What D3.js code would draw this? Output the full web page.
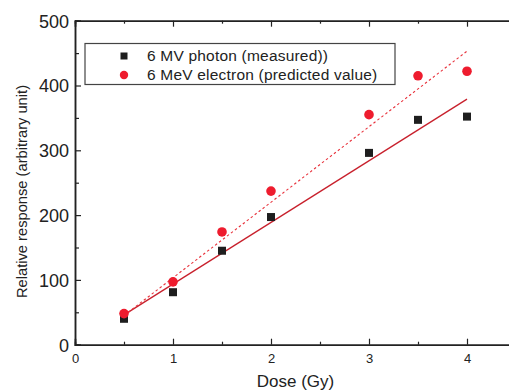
<!DOCTYPE html>
<html>
<head>
<meta charset="utf-8">
<script src="https://cdn.jsdelivr.net/npm/d3@7"></script>
<style>
  body { margin: 0; background: #fff; }
  svg { display: block; font-family: "Liberation Sans", Arial, sans-serif; }
</style>
</head>
<body>
<div id="chart"></div>
<script>
// Data
const dose = [0.5, 1, 1.5, 2, 3, 3.5, 4];
const photon = [40, 81, 145, 197, 296, 347, 352];
const electron = [48, 97, 174, 237, 355, 415, 422];

// Fit lines (end points)
const photonFitX = [0.5, 4];
const photonFitY = [46, 379];
const electronFitX = [0.5, 4];
const electronFitY = [45, 453];

const xTicks = [0, 1, 2, 3, 4];
const yTicks = [0, 100, 200, 300, 400, 500];

const seriesNames = ['6 MV photon (measured))', '6 MeV electron (predicted value)'];

const width = 509;
const height = 392;
const margin = {left: 75, top: 20.7, right: -7, bottom: 47.3};

const svg = d3.select('#chart')
  .append('svg')
  .attr('width', width)
  .attr('height', height);

const xScale = d3.scaleLinear()
  .domain([0, 4.5])
  .range([margin.left, width - margin.right]);

const yScale = d3.scaleLinear()
  .domain([0, 500])
  .range([height - margin.bottom, margin.top]);

const axisColor = '#222';

// minor + major ticks, pointing inward
const xAxis = d3.axisBottom(xScale).tickValues(xTicks).tickSize(-6).tickPadding(9).tickFormat(d3.format('d'));
const xMinor = d3.axisBottom(xScale).tickValues([0.5, 1.5, 2.5, 3.5]).tickSize(-3).tickFormat('');
const xTop = d3.axisTop(xScale).tickValues(xTicks).tickSize(-6).tickFormat('');
const xTopMinor = d3.axisTop(xScale).tickValues([0.5, 1.5, 2.5, 3.5]).tickSize(-3).tickFormat('');

const yAxis = d3.axisLeft(yScale).tickValues(yTicks).tickSize(-6).tickPadding(6);
const yMinor = d3.axisLeft(yScale).tickValues([50, 150, 250, 350, 450]).tickSize(-4).tickFormat('');

const gx = svg.append('g')
  .attr('transform', 'translate(0,' + yScale(0) + ')')
  .call(xAxis);
svg.append('g')
  .attr('transform', 'translate(0,' + yScale(0) + ')')
  .call(xMinor);
svg.append('g')
  .attr('transform', 'translate(0,' + yScale(500) + ')')
  .call(xTop);
svg.append('g')
  .attr('transform', 'translate(0,' + yScale(500) + ')')
  .call(xTopMinor);
const gy = svg.append('g')
  .attr('transform', 'translate(' + xScale(0) + ',0)')
  .call(yAxis);
svg.append('g')
  .attr('transform', 'translate(' + xScale(0) + ',0)')
  .call(yMinor);

svg.selectAll('.domain').attr('stroke', axisColor).attr('stroke-width', 1.5);
svg.selectAll('.tick line').attr('stroke', axisColor).attr('stroke-width', 1.2);
gx.selectAll('text').attr('font-size', 13).attr('fill', '#222').attr('font-family', 'Liberation Sans, Arial, sans-serif');
gy.selectAll('text').attr('font-size', 18).attr('fill', '#222').attr('font-family', 'Liberation Sans, Arial, sans-serif').attr('dy', '0.35em');

// Axis titles
svg.append('text')
  .attr('x', (xScale(0) + xScale(4.5)) / 2)
  .attr('y', 387)
  .attr('text-anchor', 'middle')
  .attr('font-size', 17)
  .attr('fill', '#222')
  .text('Dose (Gy)');

svg.append('text')
  .attr('transform', 'translate(27,191.5) rotate(-90)')
  .attr('text-anchor', 'middle')
  .attr('font-size', 14.7)
  .attr('fill', '#222')
  .text('Relative response (arbitrary unit)');

// Fit lines
const line = d3.line().x(d => xScale(d[0])).y(d => yScale(d[1]));

svg.append('path')
  .datum(d3.zip(photonFitX, photonFitY))
  .attr('d', line)
  .attr('fill', 'none')
  .attr('stroke', '#c8202c')
  .attr('stroke-width', 1.3);

svg.append('path')
  .datum(d3.zip(electronFitX, electronFitY))
  .attr('d', line)
  .attr('fill', 'none')
  .attr('stroke', '#e8303a')
  .attr('stroke-width', 1.1)
  .attr('stroke-dasharray', '2.5,2.5');

// Points
const sq = 8;
svg.selectAll('rect.photon')
  .data(d3.zip(dose, photon))
  .enter()
  .append('rect')
  .attr('class', 'photon')
  .attr('x', d => xScale(d[0]) - sq / 2)
  .attr('y', d => yScale(d[1]) - sq / 2)
  .attr('width', sq)
  .attr('height', sq)
  .attr('fill', '#1e1e1e');

svg.selectAll('circle.electron')
  .data(d3.zip(dose, electron))
  .enter()
  .append('circle')
  .attr('class', 'electron')
  .attr('cx', d => xScale(d[0]))
  .attr('cy', d => yScale(d[1]))
  .attr('r', 4.8)
  .attr('fill', '#ee1c2e');

// Legend
const legend = svg.append('g');
legend.append('rect')
  .attr('x', 85)
  .attr('y', 43.5)
  .attr('width', 310)
  .attr('height', 41)
  .attr('fill', '#fff')
  .attr('stroke', '#444')
  .attr('stroke-width', 1.2);

legend.append('rect')
  .attr('x', 124 - 3.5)
  .attr('y', 56 - 3.5)
  .attr('width', 7)
  .attr('height', 7)
  .attr('fill', '#1e1e1e');
legend.append('circle')
  .attr('cx', 124)
  .attr('cy', 75)
  .attr('r', 4.2)
  .attr('fill', '#ee1c2e');

legend.selectAll('text')
  .data(seriesNames)
  .enter()
  .append('text')
  .attr('x', 147)
  .attr('y', (d, i) => 56 + i * 19)
  .attr('dy', '0.35em')
  .attr('font-size', 15.5)
  .attr('letter-spacing', 0.2)
  .attr('fill', '#222')
  .text(d => d);
</script>
</body>
</html>
